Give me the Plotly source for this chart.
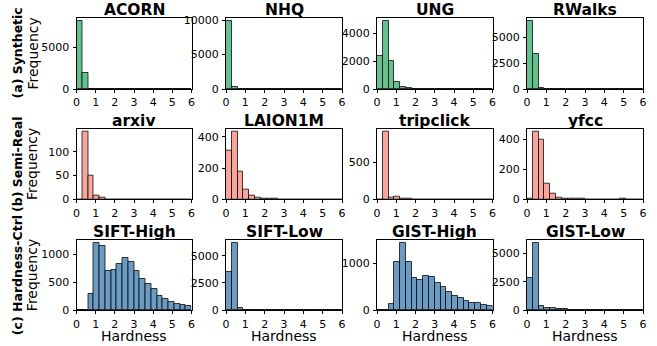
import plotly.graph_objects as go

# ---- data ----
bin_edges = [round(i * 0.3, 1) for i in range(21)]

titles = ["ACORN", "NHQ", "UNG", "RWalks",
          "arxiv", "LAION1M", "tripclick", "yfcc",
          "SIFT-High", "SIFT-Low", "GIST-High", "GIST-Low"]

acorn = [8050, 1900]
nhq = [9800, 250]
ung = [2360, 4870, 2050, 480, 150, 40, 10]
rwalks = [6570, 3380, 80]
arxiv = [0, 142, 49, 7, 4]
laion1m = [308, 430, 174, 61, 26, 13, 4, 3, 2]
tripclick = [0, 905, 15, 35, 10, 4]
yfcc = [3, 447, 395, 107, 35, 8, 5, 2, 1, 1, 0, 0, 0, 0, 0, 0, 1]
sift_high = [5, 10, 290, 1196, 1143, 696, 720, 821, 934, 857, 696, 559, 470,
             375, 255, 196, 150, 120, 95, 80]
sift_low = [3480, 6130, 240, 60, 30, 20, 15, 10, 10, 8, 6, 5, 4, 3, 3, 2, 2, 1, 1, 1]
gist_high = [0, 5, 134, 1021, 1425, 1035, 680, 652, 737, 716, 589, 503, 397,
             305, 255, 191, 149, 149, 113, 90]
gist_low = [2800, 5880, 400, 200, 220, 150, 80, 60, 50, 40, 40, 30, 30, 25,
            20, 15, 10, 10, 8, 5]

series = [acorn, nhq, ung, rwalks, arxiv, laion1m, tripclick, yfcc,
          sift_high, sift_low, gist_high, gist_low]

yticks = [[0, 5000], [0, 5000, 10000], [0, 2000, 4000], [0, 2500, 5000],
          [0, 50, 100], [0, 200, 400], [0, 500], [0, 200, 400],
          [0, 500, 1000], [0, 2500, 5000], [0, 1000], [0, 2500, 5000]]

row_labels = ["(a) Synthetic", "(b) Semi-Real", "(c) Hardness-Ctrl"]
row_colors = ["#63c28d", "#f9a59c", "#6b9bc3"]

# ---- layout geometry (pixels) ----
W, H = 657, 346
col_px = [(76.5, 191.5), (226, 342), (377, 492.5), (527, 643)]
row_px = [(18, 89), (128.7, 199.3), (240, 310.3)]
FONT = "DejaVu Sans"

fig = go.Figure()
annotations = []
layout_axes = {}

centers = [(bin_edges[i] + bin_edges[i + 1]) / 2 for i in range(20)]
widths = [bin_edges[i + 1] - bin_edges[i] for i in range(20)]

for k, vals in enumerate(series):
    r, c = divmod(k, 4)
    n = len(vals)
    vals_full = list(vals) + [0] * (20 - n)
    idx = k + 1
    xa = "x" if idx == 1 else f"x{idx}"
    ya = "y" if idx == 1 else f"y{idx}"
    fig.add_trace(go.Bar(
        x=centers, y=vals_full, width=widths,
        marker=dict(color=row_colors[r],
                    line=dict(color="rgba(0,0,0,0.75)", width=1)),
        xaxis=xa, yaxis=ya, showlegend=False, hoverinfo="skip"))
    x0, x1 = col_px[c]
    y0, y1 = row_px[r]
    ymax = max(vals) * 1.05
    axcommon = dict(showline=True, linecolor="black", linewidth=1, mirror=True,
                    ticks="outside", ticklen=3, tickwidth=1, tickcolor="black",
                    showgrid=False, zeroline=False, automargin=False,
                    tickfont=dict(family=FONT, size=11, color="black"))
    layout_axes[f"xaxis{idx}" if idx > 1 else "xaxis"] = dict(
        domain=[x0 / W, x1 / W], anchor=ya, range=[0, 6],
        tickvals=[0, 1, 2, 3, 4, 5, 6], ticklabelstandoff=0, **axcommon)
    layout_axes[f"yaxis{idx}" if idx > 1 else "yaxis"] = dict(
        domain=[1 - y1 / H, 1 - y0 / H], anchor=xa, range=[0, ymax],
        tickvals=yticks[k], ticktext=[str(t) for t in yticks[k]],
        ticklabelstandoff=1, **axcommon)
    annotations.append(dict(
        text=f"<b>{titles[k]}</b>", xref="paper", yref="paper",
        x=(x0 + x1) / 2 / W, y=1 - y0 / H, xanchor="center", yanchor="bottom",
        yshift=-3, showarrow=False,
        font=dict(family=FONT, size=15.5, color="black")))
    if r == 2:
        annotations.append(dict(
            text="Hardness", xref="paper", yref="paper",
            x=(x0 + x1) / 2 / W, y=1 - 336 / H, xanchor="center", yanchor="middle",
            showarrow=False, font=dict(family=FONT, size=14, color="black")))

for r in range(3):
    y0, y1 = row_px[r]
    yc = 1 - (y0 + y1) / 2 / H
    annotations.append(dict(
        text=f"<b>{row_labels[r]}</b>", xref="paper", yref="paper",
        x=17 / W, y=yc, xanchor="center", yanchor="middle", textangle=-90,
        showarrow=False, font=dict(family=FONT, size=12.5, color="black")))
    annotations.append(dict(
        text="Frequency", xref="paper", yref="paper",
        x=32 / W, y=yc, xanchor="center", yanchor="middle", textangle=-90,
        showarrow=False, font=dict(family=FONT, size=14, color="black")))

fig.update_layout(
    template="none",
    width=W, height=H, margin=dict(l=0, r=0, t=0, b=0, pad=0, autoexpand=False),
    paper_bgcolor="white", plot_bgcolor="white",
    bargap=0, annotations=annotations, **layout_axes)

fig.write_html("out.html", config={"displayModeBar": False},
               post_script="document.body.style.margin='0';document.body.style.padding='0';")
